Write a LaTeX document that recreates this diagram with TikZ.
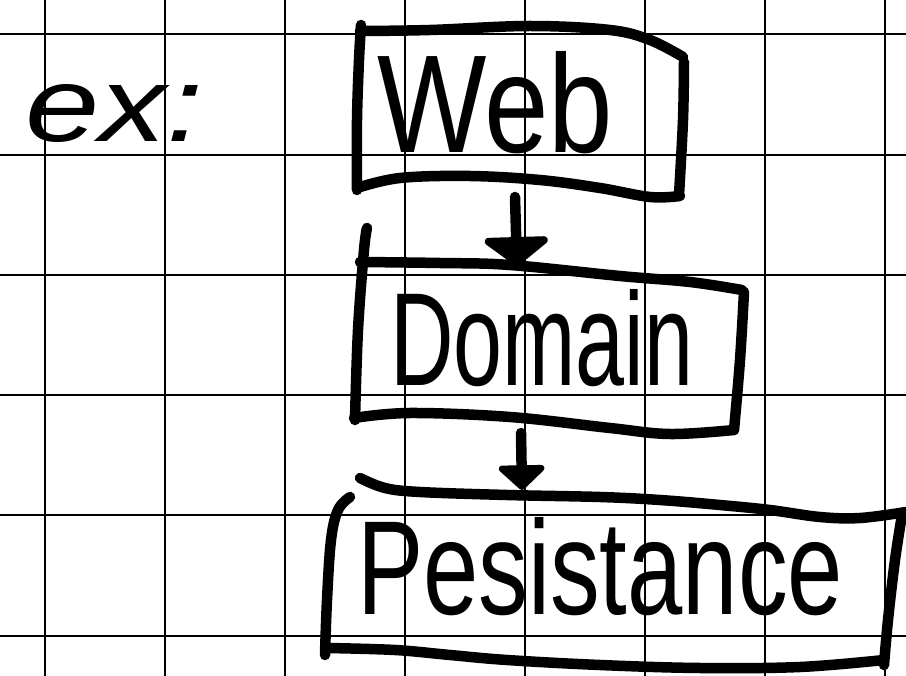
\documentclass[tikz,border=0pt]{standalone}
\usepackage{fontspec}
\setmainfont{Liberation Sans}
\usetikzlibrary{arrows.meta}

% squared paper, marker strokes and the layer arrows
\tikzset{
  grid line/.style={line width=2pt, black},
  pen/.style={line width=10.5pt, line cap=round, line join=round},
  word/.style={anchor=base west, inner sep=0pt, outer sep=0pt},
  flow/.style={pen, -{Triangle[width=76pt,length=30pt,round]}},
  flow small/.style={pen, -{Triangle[width=54pt,length=26pt,round]}},
}
% a handwritten word squeezed to a given width and height (in pt)
\newcommand{\handword}[3]{\resizebox{#1pt}{#2pt}{#3}}

\begin{document}
\begin{tikzpicture}[x=1pt,y=-1pt]
\useasboundingbox (0,0) rectangle (906,676);
\fill[white] (0,0) rectangle (906,676);

% grid of the paper
\foreach \i in {0,...,7}
  \draw[grid line] ({44.5+120.1*\i},0) -- ({44.5+120.1*\i},676);
\foreach \j in {0,...,5}
  \draw[grid line] (0,{34.5+120.2*\j}) -- (906,{34.5+120.2*\j});

% words
\node[word] (ex)     at (25,142)  {\handword{178}{57}{\itshape ex:}};
\node[word] (web)    at (377,153) {\handword{236}{101}{Web}};
\node[word] (domain) at (390,386) {\handword{303}{96}{Domain}};
\node[word] (pers)   at (357,614) {\handword{486}{97}{Pesistance}};

% Web box
\draw[pen] plot[smooth, tension=0.6] coordinates {(361,25) (359,60) (357,120) (357,190)};
\draw[pen] plot[smooth, tension=0.6] coordinates {(360,31) (430,30) (530,26) (610,30) (650,40) (683,57)};
\draw[pen] plot[smooth, tension=0.6] coordinates {(684,62) (683,120) (679,195)};
\draw[pen] plot[smooth, tension=0.6] coordinates {(357,188) (400,178) (470,176) (540,180) (600,188) (650,197) (680,196)};

% Domain box
\draw[pen] plot[smooth, tension=0.6] coordinates {(367,228) (364,250) (358,330) (355,420)};
\draw[pen] plot[smooth, tension=0.6] coordinates {(360,262) (440,263) (510,265) (620,276) (690,282) (742,290)};
\draw[pen] plot[smooth, tension=0.6] coordinates {(744,292) (740,360) (734,430)};
\draw[pen] plot[smooth, tension=0.6] coordinates {(354,418) (410,413) (510,417) (610,428) (670,434) (734,430)};

% Persistence box
\draw[pen] plot[smooth, tension=0.6] coordinates {(360,478) (385,488) (420,492) (507,495) (600,497) (660,500) (720,505) (770,510) (820,517) (860,518) (906,512)};
\draw[pen] plot[smooth, tension=0.6] coordinates {(350,497) (338,510) (331,540) (327,600) (325,655)};
\draw[pen] plot[smooth, tension=0.6] coordinates {(902,515) (895,560) (888,620) (884,665)};
\draw[pen] plot[smooth, tension=0.6] coordinates {(327,648) (395,650) (450,655) (507,660) (600,665) (700,668) (800,667) (884,660)};

% arrows between the layers
\coordinate (web-out)    at (515,197);
\coordinate (domain-in)  at (517,266);
\coordinate (domain-out) at (521,433);
\coordinate (pers-in)    at (522,490);
\draw[flow] (web-out) -- (domain-in);
\draw[flow small] (domain-out) -- (pers-in);
\end{tikzpicture}
\end{document}
